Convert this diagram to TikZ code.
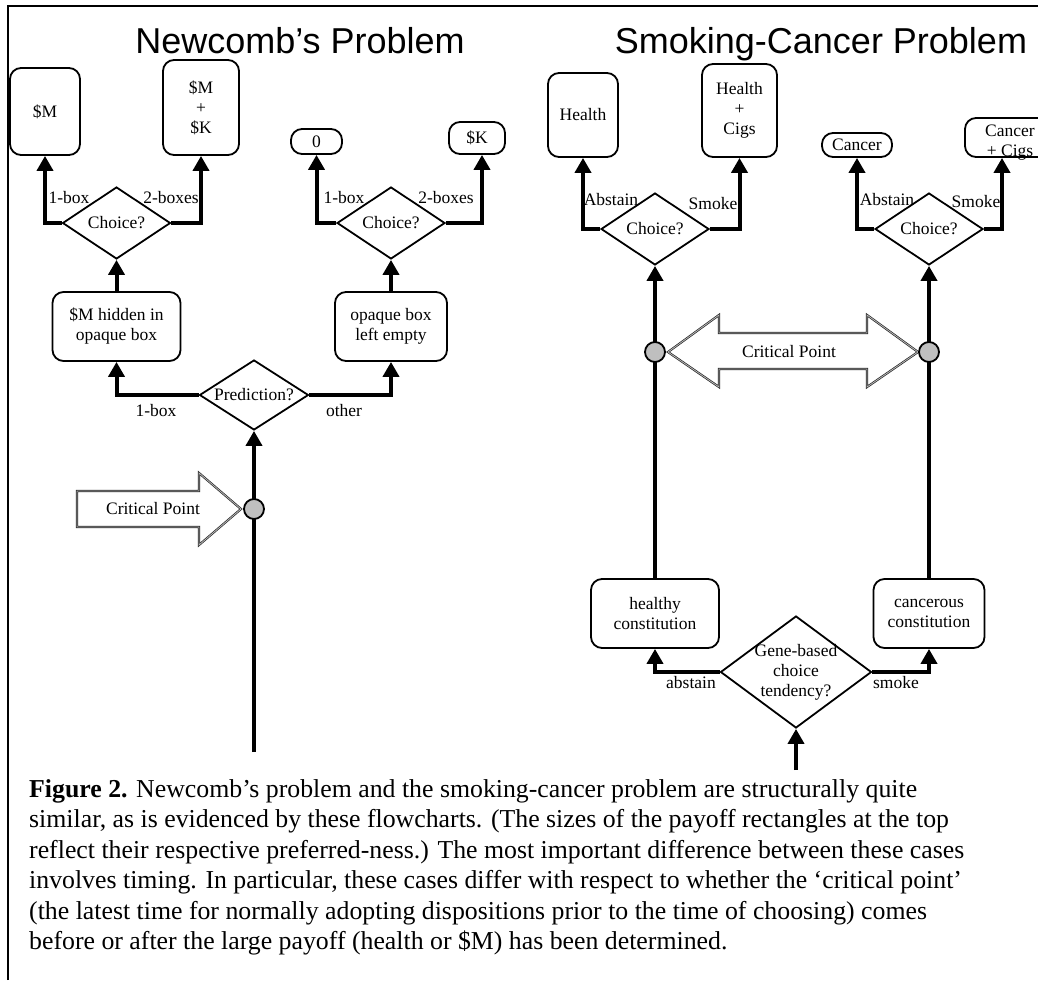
\documentclass[tikz,border=0pt]{standalone}
\usepackage{fontspec}
\setmainfont{Liberation Serif}
\newfontfamily\lblfont{Liberation Serif}
\newfontfamily\capfont{Liberation Serif}
\newfontfamily\ttlfont{Liberation Sans}
\usetikzlibrary{shapes.geometric,arrows.meta,calc}
\tikzset{
  lbl/.style={font=\lblfont\fontsize{17.5}{20}\selectfont, inner sep=0pt, align=center},
  box/.style={draw, line width=1.8pt, rounded corners=11pt, inner sep=0pt, lbl},
  dia/.style={draw, diamond, line width=1.8pt, inner sep=0pt, minimum width=108pt, minimum height=72pt},
  conn/.style={line width=4pt, -{Triangle[length=15pt,width=16pt]}},
  cpdot/.style={circle, draw, line width=1.8pt, fill=gray!50, minimum size=20pt, inner sep=0pt},
  bigarrow/.style={draw=black!85, double=gray!55, double distance=0.8pt, line width=0.7pt, fill=white},
  ttl/.style={font=\ttlfont\fontsize{36}{36}\selectfont, anchor=base, inner sep=0pt},
}
\begin{document}
\begin{tikzpicture}[x=1pt,y=-1pt]
\useasboundingbox (0,0) rectangle (1038,980);
\clip (0,0) rectangle (1038,980);
% frame
\draw[line width=2pt] (8,980) -- (8,6) -- (1038,6);
% titles
\node[ttl] (t1) at (300,53) {Newcomb’s Problem};
\node[ttl] (t2) at (821,53) {Smoking-Cancer Problem};

% ---------- Newcomb ----------
\node[box, minimum width=70pt, minimum height=87pt] (m1) at (45,111.5) {\$M};
\node[box, minimum width=76pt, minimum height=95pt] (m2) at (201,107.5) {\$M\\+\\\$K};
\node[box, minimum width=51pt, minimum height=25pt] (z0) at (316.5,141.5) {0};
\node[box, minimum width=56pt, minimum height=32pt] (kk) at (477,138) {\$K};
\node[dia] (c1) at (116.5,223) {};
\node[dia] (c2) at (391,223) {};
\node[box, minimum width=128pt, minimum height=69pt] (hid) at (116.5,326.5) {\$M hidden in\\opaque box};
\node[box, minimum width=112pt, minimum height=69pt] (emp) at (391,326.5) {opaque box\\left empty};
\node[dia, minimum width=109pt, minimum height=70pt] (pred) at (254,395) {};
\coordinate (nstart) at (254,752);

\draw[conn] (c1.west) -| (m1.south);
\draw[conn] (c1.east) -| (m2.south);
\draw[conn] (c2.west) -| (z0.south);
\draw[conn] (c2.east) -| ([xshift=5pt]kk.south);
\draw[conn] (hid.north) -- (c1.south);
\draw[conn] (emp.north) -- (c2.south);
\draw[conn] (pred.west) -| (hid.south);
\draw[conn] (pred.east) -| (emp.south);
\draw[conn] (nstart) -- (pred.south);

\draw[bigarrow] (77,491) -- (199,491) -- (199,473) -- (241,509) -- (199,545) -- (199,527) -- (77,527) -- cycle;
\node[cpdot] (cp1) at (254,509) {};

\node[lbl] at (c1) {Choice?};
\node[lbl] at (c2) {Choice?};
\node[lbl] at (pred) {Prediction?};
\node[lbl] (cpt1) at (153,509) {Critical Point};
\node[lbl] at (69,198) {1-box};
\node[lbl] at (171,198) {2-boxes};
\node[lbl] at (344,198) {1-box};
\node[lbl] at (446,198) {2-boxes};
\node[lbl] at (156,411) {1-box};
\node[lbl] at (344,411) {other};

% ---------- Smoking ----------
\node[box, minimum width=70pt, minimum height=84pt] (he) at (583,115) {Health};
\node[box, minimum width=75pt, minimum height=93pt] (hc) at (739.5,110.5) {Health\\+\\Cigs};
\node[box, minimum width=70pt, minimum height=24pt] (ca) at (857,145) {Cancer};
\node[box, minimum width=90pt, minimum height=39pt] (cc) at (1010,137.5) {};
\node[dia] (c3) at (655,229) {};
\node[dia] (c4) at (929,229) {};
\node[box, minimum width=128pt, minimum height=69pt] (hy) at (655,613.5) {healthy\\constitution};
\node[box, minimum width=111pt, minimum height=69pt] (cn) at (929,613.5) {cancerous\\constitution};
\node[dia, minimum width=151pt, minimum height=112pt] (gene) at (796,672) {};
\coordinate (gstart) at (796,770);

\draw[conn] (c3.west) -| (he.south);
\draw[conn] (c3.east) -| (hc.south);
\draw[conn] (c4.west) -| (ca.south);
\draw[conn] (c4.east) -| ([xshift=-8pt]cc.south);
\draw[conn] (hy.north) -- (c3.south);
\draw[conn] (cn.north) -- (c4.south);
\draw[conn] (gene.west) -| (hy.south);
\draw[conn] (gene.east) -| (cn.south);
\draw[conn] (gstart) -- (gene.south);

\draw[bigarrow] (668,352) -- (719,315) -- (719,333) -- (867,333) -- (867,315) -- (918,352)
  -- (867,387) -- (867,369) -- (719,369) -- (719,387) -- cycle;
\node[cpdot] (cp2) at (655,352) {};
\node[cpdot] (cp3) at (929,352) {};

\node[lbl] at ([yshift=-5pt]cc.center) {Cancer\\+ Cigs};
\node[lbl] at (c3) {Choice?};
\node[lbl] at (c4) {Choice?};
\node[lbl] at (gene) {Gene-based\\choice\\tendency?};
\node[lbl] (cpt2) at (789,352) {Critical Point};
\node[lbl] at (611,200) {Abstain};
\node[lbl] at (713,204) {Smoke};
\node[lbl] at (887,200) {Abstain};
\node[lbl] at (976,202) {Smoke};
\node[lbl] at (691,683) {abstain};
\node[lbl] at (896,683) {smoke};

% ---------- caption ----------
\node[font=\capfont\fontsize{25.8}{30.5}\selectfont, anchor=north west, align=left, inner sep=0pt] (cap) at (29,779)
{\textbf{Figure 2.} Newcomb’s problem and the smoking-cancer problem are structurally quite\\
similar, as is evidenced by these flowcharts. (The sizes of the payoff rectangles at the top\\
reflect their respective preferred-ness.) The most important difference between these cases\\
involves timing. In particular, these cases differ with respect to whether the ‘critical point’\\
(the latest time for normally adopting dispositions prior to the time of choosing) comes\\
before or after the large payoff (health or \$M) has been determined.};
\end{tikzpicture}
\end{document}
